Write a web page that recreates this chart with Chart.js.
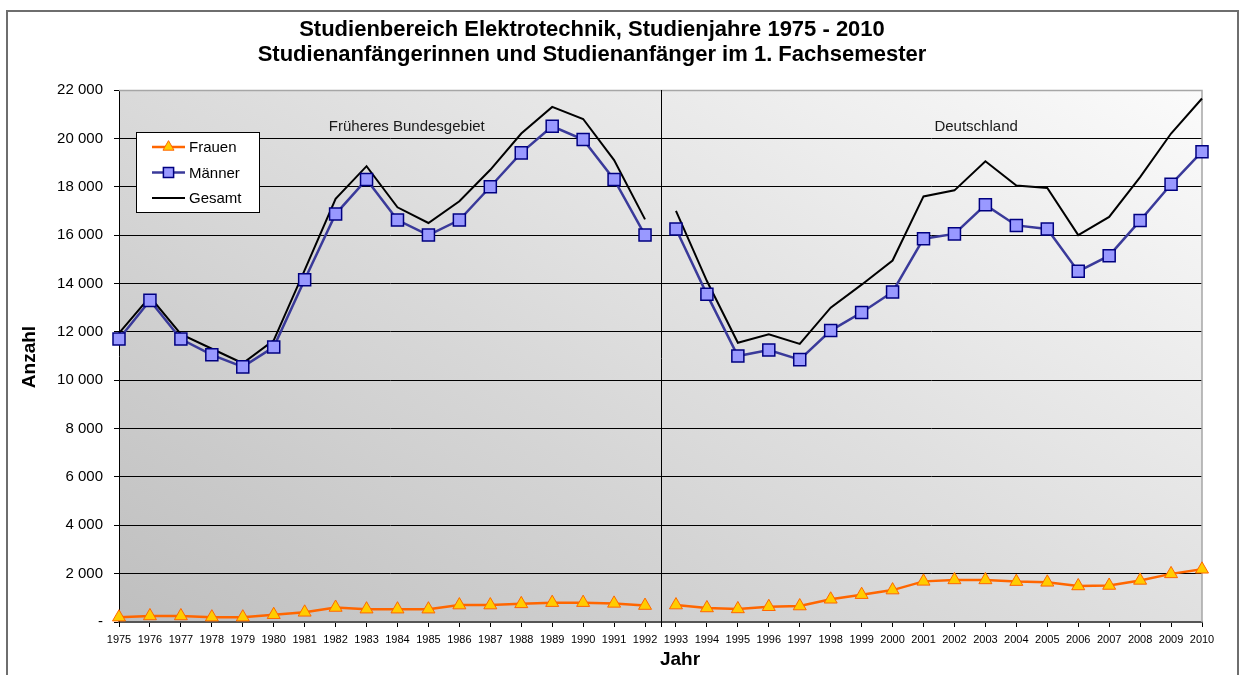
<!DOCTYPE html>
<html>
<head>
<meta charset="utf-8">
<script src="https://cdn.jsdelivr.net/npm/chart.js@4"></script>
<style>
  html, body { margin: 0; padding: 0; background: #fff; }
  #wrap { position: relative; width: 1241px; height: 675px; }
</style>
</head>
<body>
<div id="wrap"><canvas id="chart"></canvas></div>
<script>
// Studienbereich Elektrotechnik, Studienanfänger im 1. Fachsemester 1975 - 2010

const years = ['1975', '1976', '1977', '1978', '1979', '1980', '1981', '1982', '1983',
  '1984', '1985', '1986', '1987', '1988', '1989', '1990', '1991', '1992',
  '1993', '1994', '1995', '1996', '1997', '1998', '1999', '2000', '2001',
  '2002', '2003', '2004', '2005', '2006', '2007', '2008', '2009', '2010'];

const frauen = [200, 250, 250, 200, 200, 300, 400, 600, 530, 530, 530, 700, 700, 750, 800, 800, 770, 680,
  700, 580, 540, 630, 660, 940, 1130, 1320, 1680, 1740, 1740, 1670, 1640, 1490, 1510, 1720, 1990, 2180];

const maenner = [11700, 13300, 11700, 11050, 10550, 11370, 14150, 16870, 18300, 16620, 16000, 16620, 18000, 19400, 20500, 19950, 18300, 16000,
  16250, 13550, 11000, 11250, 10850, 12050, 12800, 13650, 15850, 16050, 17250, 16400, 16250, 14500, 15150, 16600, 18100, 19450];

const gesamt = [11950, 13450, 11900, 11300, 10700, 11650, 14550, 17500, 18850, 17150, 16500, 17400, 18700, 20200, 21300, 20800, 19100, 16650,
  17000, 14100, 11550, 11900, 11500, 13000, 13950, 14950, 17600, 17850, 19050, 18050, 17950, 16000, 16750, 18400, 20200, 21650];

// last index of "Früheres Bundesgebiet", the line breaks after it
const lastWestIndex = 17;

const regions = [
  { text: 'Früheres Bundesgebiet', at: 9.3 },
  { text: 'Deutschland', at: 27.7 }
];

const FONT = "'Liberation Sans', Arial, sans-serif";

const COLORS = {
  frauenLine: '#ff6600',
  frauenFill: '#ffcc00',
  maennerLine: '#3a3a9a',
  maennerFill: '#9999ff',
  maennerBorder: '#000080',
  gesamt: '#000000'
};

function breakSegment(color) {
  return function(ctx) {
    return ctx.p0DataIndex === lastWestIndex ? 'rgba(0,0,0,0)' : color;
  };
}

function fmt(v) {
  if (v === 0) return '-';
  return String(v).replace(/\B(?=(\d{3})+(?!\d))/g, ' ');
}

// background, plot gradient, outer frame
const backdrop = {
  id: 'backdrop',
  beforeDraw(chart) {
    const ctx = chart.ctx;
    const a = chart.chartArea;
    ctx.save();
    ctx.fillStyle = '#fff';
    ctx.fillRect(0, 0, chart.width, chart.height);
    const g = ctx.createLinearGradient(a.left, a.bottom, a.left + 528, a.bottom - 870);
    g.addColorStop(0, '#bfbfbf');
    g.addColorStop(1, '#fbfbfb');
    ctx.fillStyle = g;
    ctx.fillRect(a.left, a.top, a.right - a.left, a.bottom - a.top);
    ctx.strokeStyle = '#6e6e6e';
    ctx.lineWidth = 2;
    ctx.strokeRect(7, 11, 1231, 700);
    ctx.restore();
  },
  beforeDatasetsDraw(chart) {
    const ctx = chart.ctx;
    const a = chart.chartArea;
    const x = chart.scales.x;
    ctx.save();
    // plot frame top / right
    ctx.strokeStyle = '#a6a6a6';
    ctx.lineWidth = 1.5;
    ctx.beginPath();
    ctx.moveTo(a.left, a.top + 0.5);
    ctx.lineTo(a.right, a.top + 0.5);
    ctx.lineTo(a.right, a.bottom);
    ctx.stroke();
    // separator between the two periods
    const sx = Math.round((x.getPixelForValue(lastWestIndex) + x.getPixelForValue(lastWestIndex + 1)) / 2) + 0.5;
    ctx.strokeStyle = '#000';
    ctx.lineWidth = 1;
    ctx.beginPath();
    ctx.moveTo(sx, a.top);
    ctx.lineTo(sx, a.bottom + 5);
    ctx.stroke();
    ctx.restore();
  },
  afterDraw(chart) {
    const ctx = chart.ctx;
    const x = chart.scales.x;
    ctx.save();
    ctx.fillStyle = '#000';
    ctx.textAlign = 'center';
    ctx.textBaseline = 'middle';

    // titles
    ctx.font = 'bold 22px ' + FONT;
    ctx.fillText('Studienbereich Elektrotechnik, Studienjahre 1975 - 2010', 592, 30);
    ctx.fillText('Studienanfängerinnen und Studienanfänger im 1. Fachsemester', 592, 55);

    // axis titles
    ctx.font = 'bold 19px ' + FONT;
    ctx.fillText('Jahr', 680, 660);
    ctx.save();
    ctx.translate(30, 357);
    ctx.rotate(-Math.PI / 2);
    ctx.fillText('Anzahl', 0, 0);
    ctx.restore();

    // region labels
    ctx.font = '15px ' + FONT;
    ctx.fillStyle = '#1a1a1a';
    regions.forEach(function(r) {
      ctx.fillText(r.text, x.getPixelForValue(r.at), 127);
    });

    // legend box
    ctx.fillStyle = '#fff';
    ctx.fillRect(136.5, 132.5, 123, 80);
    ctx.strokeStyle = '#000';
    ctx.lineWidth = 1;
    ctx.strokeRect(136.5, 132.5, 123, 80);
    ctx.textAlign = 'left';
    ctx.font = '15px ' + FONT;
    chart.data.datasets.forEach(function(ds, i) {
      const y = 147 + i * 25.5;
      ctx.strokeStyle = ds.borderColor;
      ctx.lineWidth = ds.borderWidth;
      ctx.beginPath();
      ctx.moveTo(152, y);
      ctx.lineTo(185, y);
      ctx.stroke();
      if (ds.pointRadius > 0) {
        ctx.fillStyle = ds.pointBackgroundColor;
        ctx.strokeStyle = ds.pointBorderColor;
        ctx.lineWidth = ds.pointBorderWidth;
        Chart.helpers.drawPoint(ctx, {
          pointStyle: ds.pointStyle, radius: ds.pointRadius * 0.85,
          borderWidth: ds.pointBorderWidth, rotation: 0
        }, 168.5, y);
      }
      ctx.fillStyle = '#000';
      ctx.fillText(ds.label, 189, y + 1);
    });
    ctx.restore();
  }
};

new Chart(document.getElementById('chart'), {
  type: 'line',
  data: {
    labels: years,
    datasets: [
      {
        label: 'Frauen',
        data: frauen,
        borderColor: COLORS.frauenLine,
        borderWidth: 2.5,
        pointStyle: 'triangle',
        pointRadius: 7.5,
        pointBackgroundColor: COLORS.frauenFill,
        pointBorderColor: COLORS.frauenLine,
        pointBorderWidth: 1,
        segment: { borderColor: breakSegment(COLORS.frauenLine) }
      },
      {
        label: 'Männer',
        data: maenner,
        borderColor: COLORS.maennerLine,
        borderWidth: 2.5,
        pointStyle: 'rect',
        pointRadius: 8.5,
        pointBackgroundColor: COLORS.maennerFill,
        pointBorderColor: COLORS.maennerBorder,
        pointBorderWidth: 1.5,
        segment: { borderColor: breakSegment(COLORS.maennerLine) }
      },
      {
        label: 'Gesamt',
        data: gesamt,
        borderColor: COLORS.gesamt,
        borderWidth: 2,
        pointRadius: 0,
        segment: { borderColor: breakSegment(COLORS.gesamt) }
      }
    ]
  },
  options: {
    responsive: true,
    maintainAspectRatio: false,
    animation: false,
    layout: { padding: { top: 90, right: 39, left: 0, bottom: 0 } },
    plugins: {
      legend: { display: false },
      title: { display: false },
      tooltip: { enabled: false }
    },
    scales: {
      x: {
        offset: false,
        afterFit: function(s) { s.height = 53; },
        grid: { drawOnChartArea: false, drawTicks: true, tickLength: 5, tickColor: '#000' },
        border: { display: true, color: '#555', width: 2 },
        ticks: {
          autoSkip: false, maxRotation: 0, padding: 6,
          color: '#000', font: { family: FONT, size: 11 }
        }
      },
      y: {
        min: 0,
        max: 22000,
        afterFit: function(s) { s.width = 119; },
        grid: {
          tickLength: 5,
          tickColor: '#000',
          lineWidth: 1,
          color: function(c) {
            if (c.tick.value === 0 || c.tick.value === 22000) return 'rgba(0,0,0,0)';
            return '#000';
          }
        },
        border: { display: true, color: '#000', width: 1 },
        ticks: {
          stepSize: 2000,
          padding: 11,
          color: '#000',
          font: { family: FONT, size: 15 },
          callback: function(v) { return fmt(v); }
        }
      }
    }
  },
  plugins: [backdrop]
});
</script>
</body>
</html>
